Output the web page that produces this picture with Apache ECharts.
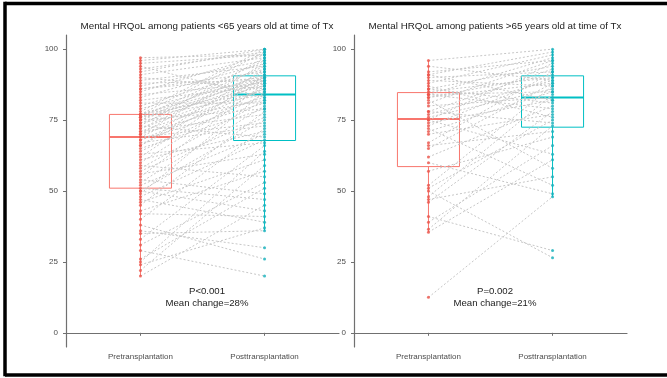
<!DOCTYPE html>
<html>
<head>
<meta charset="utf-8">
<script src="https://cdn.jsdelivr.net/npm/echarts@6/dist/echarts.min.js"></script>
<style>
  html, body { margin: 0; padding: 0; background: #fff; overflow: hidden; }
  #chart { width: 667px; height: 378px; }
</style>
</head>
<body>
<div id="chart"></div>
<script>
const categories = ["Pretransplantation", "Posttransplantation"];
const yTicks = [0, 25, 50, 75, 100];

// patients <65 years: paired scores (same index = same patient)
const preYoung = [20, 22, 24, 25, 26, 29, 31, 33, 35, 36, 38, 40, 42, 43, 45, 46, 47, 48, 49, 50, 50,
  51, 52, 53, 54, 55, 56, 57, 58, 59, 60, 61, 62, 63, 64, 65, 66, 66, 67, 68, 68, 69,
  69, 70, 70, 71, 71, 72, 72, 73, 73, 74, 74, 75, 75, 75, 76, 76, 76, 77, 77, 77, 77,
  78, 79, 80, 81, 82, 83, 84, 85, 86, 86, 87, 88, 89, 90, 91, 92, 93, 94, 95, 96, 97];
const postYoung = [45, 59, 37, 64, 51, 20, 53, 66, 36, 30, 26, 72, 41, 57, 78, 61, 39, 68, 85, 43,
  75, 47, 70, 80, 49, 88, 63, 76, 82, 55, 87, 71, 91, 67, 84, 79, 89, 93, 73, 86,
  81, 90, 74, 95, 83, 86, 77, 92, 88, 69, 97, 89, 82, 94, 90, 79, 87, 96, 84, 91,
  99, 85, 89, 100, 90, 93, 81, 87, 95, 88, 98, 92, 90, 96, 89, 94, 86, 97, 100, 99,
  83, 98, 100, 98];

// patients >65 years
const preOld = [12.5, 35.5, 36.5, 39, 41, 46, 47, 48, 50, 51, 52, 57,
  60, 62, 65, 66, 67, 70, 71, 72, 73, 74, 75, 75,
  76, 77, 78, 78, 80, 81, 82, 83, 83, 84, 84, 84,
  85, 86, 86, 87, 88, 89, 90, 91, 91, 92, 94, 96];
const postOld = [48, 61, 73, 66, 29, 78, 55, 84, 26.5, 75, 87, 69,
  49, 80, 88, 71, 92, 77, 85, 52, 90, 82, 95, 63,
  86, 89, 74, 93, 83, 96, 58, 88, 91, 79, 97, 85,
  90, 81, 94, 76, 98, 87, 92, 99, 82, 96, 89, 100];

// box stats: [lower whisker, Q1, median, Q3, upper whisker]
const boxYoung = [[20, 51, 69, 77, 97], [36, 67.8, 84, 90.6, 100]];
const boxOld = [[35.5, 58.6, 75.4, 84.7, 96], [48, 72.5, 83, 90.6, 100]];

const panelTitles = [
  "Mental HRQoL among patients <65 years old at time of Tx",
  "Mental HRQoL among patients >65 years old at time of Tx",
];
const panelNotes = ["P<0.001\nMean change=28%", "P=0.002\nMean change=21%"];

const RED = "#F8766D";
const CYAN = "#00BFC4";
const POINT_COLORS = ["#ee5248", "#13b0bb"];
const BOX_COLORS = [RED, CYAN];
const FONT = "Arial, 'Liberation Sans', sans-serif";

const chart = echarts.init(document.getElementById("chart"));

function boxRenderer(params, api) {
  const x = api.value(0);
  const half = 0.25;
  const color = BOX_COLORS[params.dataIndex];
  const [xl, yq3] = api.coord([x - half, api.value(4)]);
  const [xr, yq1] = api.coord([x + half, api.value(2)]);
  const yMed = api.coord([x, api.value(3)])[1];
  const [xc, yMin] = api.coord([x, api.value(1)]);
  const yMax = api.coord([x, api.value(5)])[1];
  const stroke = { stroke: color, lineWidth: 1, fill: null };
  return {
    type: "group",
    children: [
      { type: "line", shape: { x1: xc, y1: yq1, x2: xc, y2: yMin }, style: stroke },
      { type: "line", shape: { x1: xc, y1: yq3, x2: xc, y2: yMax }, style: stroke },
      { type: "rect", shape: { x: xl, y: yq3, width: xr - xl, height: yq1 - yq3 }, style: stroke },
      { type: "line", shape: { x1: xl, y1: yMed, x2: xr, y2: yMed }, style: { stroke: color, lineWidth: 2 } },
    ],
  };
}

function pairRenderer(params, api) {
  const a = api.coord([api.value(0), api.value(1)]);
  const b = api.coord([api.value(2), api.value(3)]);
  return {
    type: "line",
    shape: { x1: a[0], y1: a[1], x2: b[0], y2: b[1] },
    style: { stroke: "#c6c6c6", lineWidth: 1, lineDash: [2, 2] },
  };
}

const panels = [
  { pre: preYoung, post: postYoung, box: boxYoung },
  { pre: preOld, post: postOld, box: boxOld },
];
const lefts = [66, 354];

const grid = lefts.map((left) => ({ left, top: 35, width: 273, height: 312 }));

const xAxis = lefts.map((_, i) => ({
  type: "value",
  gridIndex: i,
  min: 0.4,
  max: 2.6,
  splitLine: { show: false },
  axisLine: { lineStyle: { color: "#707070", width: 1.2 } },
  axisTick: { customValues: [1, 2], length: 3, lineStyle: { color: "#707070" } },
  axisLabel: {
    customValues: [1, 2],
    formatter: (v) => categories[Math.round(v) - 1],
    fontSize: 8,
    color: "#4d4d4d",
    fontFamily: FONT,
    margin: 6,
  },
}));

const yAxis = lefts.map((_, i) => ({
  type: "value",
  gridIndex: i,
  min: -5,
  max: 105,
  splitLine: { show: false },
  axisLine: { show: true, lineStyle: { color: "#707070", width: 1.2 } },
  axisTick: { show: true, customValues: yTicks, length: 3, lineStyle: { color: "#707070" } },
  axisLabel: {
    customValues: yTicks,
    fontSize: 8,
    color: "#4d4d4d",
    fontFamily: FONT,
    margin: 8,
  },
}));

const series = [];
panels.forEach((p, i) => {
  series.push({
    type: "custom",
    xAxisIndex: i,
    yAxisIndex: i,
    renderItem: boxRenderer,
    encode: { x: 0, y: [1, 2, 3, 4, 5] },
    data: p.box.map((b, k) => [k + 1, ...b]),
    z: 1,
    silent: true,
  });
  series.push({
    type: "custom",
    xAxisIndex: i,
    yAxisIndex: i,
    renderItem: pairRenderer,
    encode: { x: [0, 2], y: [1, 3] },
    data: p.pre.map((v, k) => [1, v, 2, p.post[k]]),
    z: 2,
    silent: true,
  });
  series.push({
    type: "scatter",
    xAxisIndex: i,
    yAxisIndex: i,
    symbolSize: 3,
    itemStyle: { color: POINT_COLORS[0] },
    data: p.pre.map((v) => [1, v]),
    z: 3,
  });
  series.push({
    type: "scatter",
    xAxisIndex: i,
    yAxisIndex: i,
    symbolSize: 3,
    itemStyle: { color: POINT_COLORS[1] },
    data: p.post.map((v) => [2, v]),
    z: 3,
  });
});

const titleCenters = [202, 490];
const title = [];
titleCenters.forEach((cx, i) => {
  title.push({
    text: panelTitles[i],
    left: cx,
    top: 16,
    textAlign: "center",
    textStyle: { fontSize: 9.8, fontWeight: "normal", color: "#222", fontFamily: FONT },
  });
  title.push({
    text: panelNotes[i],
    left: cx,
    top: 280,
    textAlign: "center",
    textStyle: { fontSize: 9.6, fontWeight: "normal", color: "#222", fontFamily: FONT, lineHeight: 12, align: "center" },
  });
});

const frame = { stroke: "#000", lineWidth: 3.5 };
chart.setOption({
  animation: false,
  title,
  grid,
  xAxis,
  yAxis,
  series,
  graphic: [
    { type: "line", shape: { x1: 5, y1: 3.5, x2: 667, y2: 3.5 }, style: frame, silent: true },
    { type: "line", shape: { x1: 5, y1: 1.75, x2: 5, y2: 376.25 }, style: frame, silent: true },
    { type: "line", shape: { x1: 5, y1: 375, x2: 667, y2: 375 }, style: frame, silent: true },
  ],
});
</script>
</body>
</html>
